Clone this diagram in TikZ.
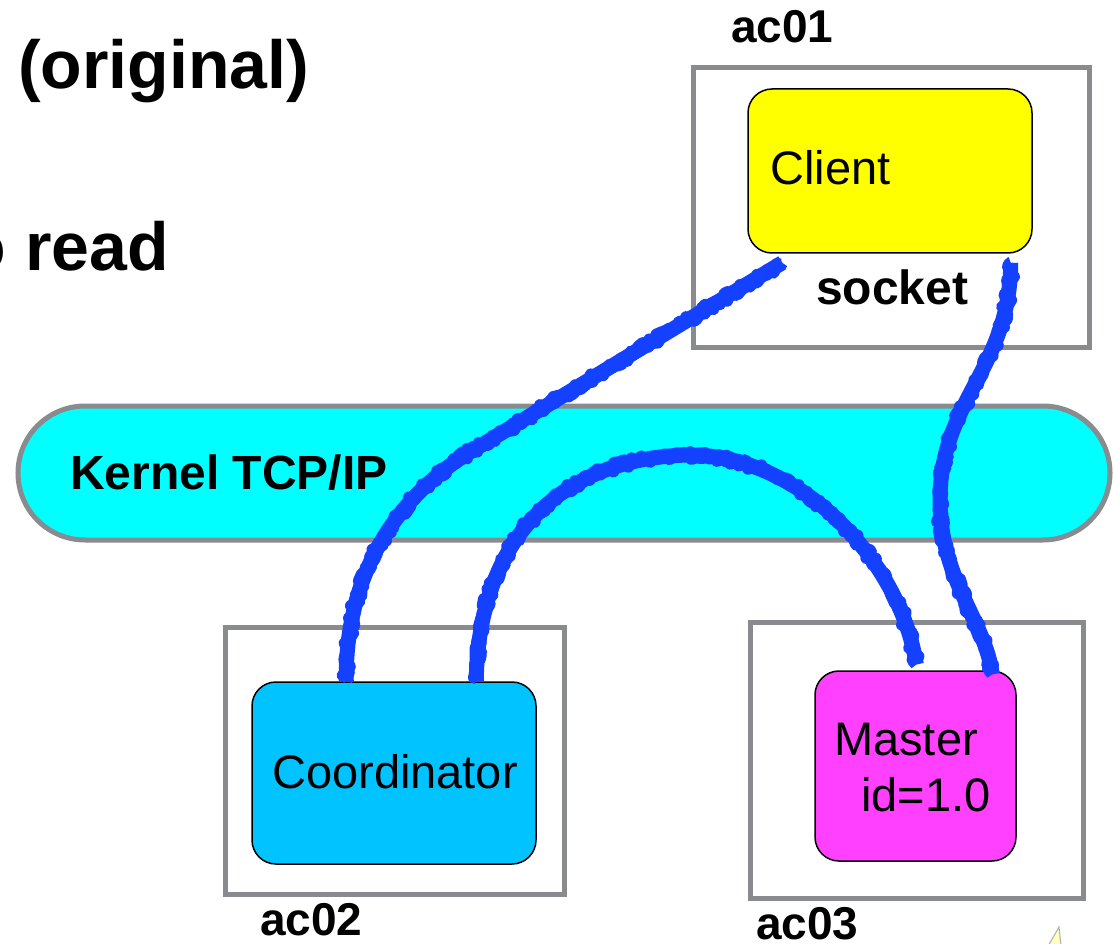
\documentclass[tikz,border=0pt]{standalone}
\usepackage{fontspec}
\setmainfont{Liberation Sans}
\usetikzlibrary{calc,decorations.pathmorphing}
\definecolor{boxgray}{RGB}{137,139,142}
\definecolor{kcyan}{RGB}{0,255,255}
\definecolor{cliyellow}{RGB}{255,255,0}
\definecolor{coordblue}{RGB}{0,195,255}
\definecolor{mastermag}{RGB}{255,64,255}
\definecolor{wireblue}{RGB}{20,64,255}
\definecolor{tipyellow}{RGB}{255,255,190}
\tikzset{
  hostbox/.style={draw=boxgray, line width=5pt, inner sep=0pt},
  proc/.style={draw=black, line width=1.5pt, rounded corners=24pt, inner sep=0pt},
  lbl/.style={font=\fontsize{47}{56}\selectfont, inner sep=0pt},
  blbl/.style={font=\fontsize{46}{56}\selectfont\bfseries, inner sep=0pt},
  bblbl/.style={font=\fontsize{48}{56}\selectfont\bfseries, inner sep=0pt},
  titlelbl/.style={font=\fontsize{68}{80}\selectfont\bfseries, inner sep=0pt},
  wire/.style={draw=wireblue, line width=15pt, line join=round},
  wirerough/.style={draw=wireblue, line width=12pt, line join=round,
    decorate, decoration={random steps, segment length=2.5pt, amplitude=4pt}},
}
\pgfmathsetseed{7}
\begin{document}
\begin{tikzpicture}[x=1pt,y=-1pt]
\useasboundingbox (0,0) rectangle (1114,944);
\fill[white] (0,0) rectangle (1114,944);

% titles
\node[titlelbl, anchor=base west] (t1) at (18,89) {(original)};
\node[titlelbl, anchor=base east] (t2) at (169,270) {o read};

% kernel
\node[draw=boxgray, line width=5pt, fill=kcyan, rounded corners=67pt,
      minimum width=1092pt, minimum height=134pt, inner sep=0pt] (kernel) at (564,473) {};
\node[bblbl, anchor=base west] (kernellbl) at (70,489) {Kernel TCP/IP};

% host boxes
\node[hostbox, minimum width=396pt, minimum height=279pt] (ac01) at (891,207.5) {};
\node[hostbox, minimum width=339pt, minimum height=267pt] (ac02) at (394.5,760.5) {};
\node[hostbox, minimum width=333pt, minimum height=276pt] (ac03) at (916.5,760) {};

\node[blbl, anchor=base west] (ac01lbl) at (731,43) {ac01};
\node[blbl, anchor=base west] (ac02lbl) at (260,935) {ac02};
\node[blbl, anchor=base west] (ac03lbl) at (756,939) {ac03};
\node[bblbl, anchor=base west] (socketlbl) at (816,305) {socket};

% processes
\node[proc, fill=cliyellow, minimum width=284pt, minimum height=164pt] (client) at (890,171) {};
\node[lbl, anchor=base west] (clientlbl) at (770,185) {Client};
\node[proc, fill=coordblue, minimum width=284pt, minimum height=182pt] (coord) at (394,773) {};
\node[lbl, anchor=base] (coordlbl) at (395,788) {Coordinator};
\node[proc, fill=mastermag, minimum width=201pt, minimum height=190pt] (master) at (915.5,766) {};
\node[lbl, anchor=base west] (masterlbl) at (834,755) {Master};
\node[lbl, anchor=base west] (masterid) at (861,811) {id=1.0};

% wire ends
\coordinate (w1a) at ($(client.south west)+(35,9)$);
\coordinate (w1b) at ($(coord.north west)+(95,0)$);
\coordinate (w2a) at ($(coord.north west)+(225,0)$);
\coordinate (w2b) at ($(master.north west)+(102,-6)$);
\coordinate (w3a) at ($(client.south east)+(-22,9)$);
\coordinate (w3b) at ($(master.north west)+(178,4)$);

% wires
\foreach \lay in {wire,wirerough}{
  \draw[\lay] (w1a) -- (485,443) .. controls (400,490) and (345,570) .. (w1b);
  \draw[\lay] (w2a) .. controls (478,540) and (560,457) .. (690,455)
                    .. controls (800,455) and (900,560) .. (w2b);
  \draw[\lay] (w3a) .. controls (1010,370) and (940,400) .. (940,500)
                    .. controls (940,580) and (985,620) .. (w3b);
}

% partial tip at bottom right
\draw[fill=tipyellow, draw=boxgray!70, line width=1pt] (1059,927) -- (1043,955) -- (1062,955) -- cycle;
\end{tikzpicture}
\end{document}
